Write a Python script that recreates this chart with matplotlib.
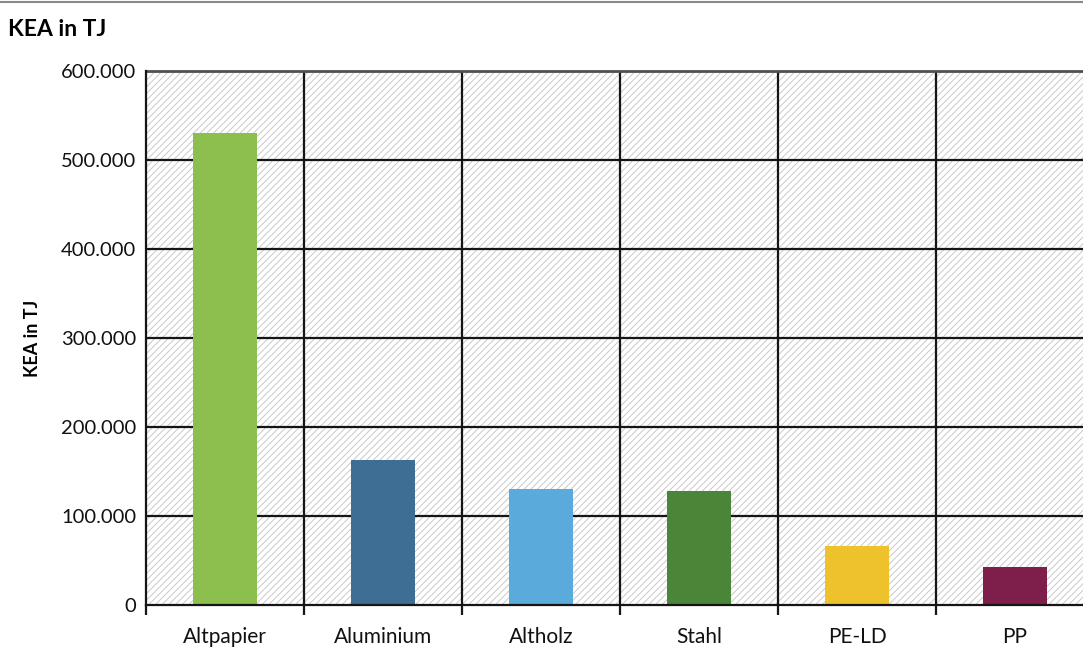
import matplotlib
matplotlib.use("Agg")
import matplotlib.pyplot as plt
from matplotlib.patches import Rectangle
from matplotlib.lines import Line2D
from matplotlib.ticker import FuncFormatter, FixedLocator

plt.rcParams['font.family'] = ['Lato', 'DejaVu Sans']
plt.rcParams['hatch.linewidth'] = 0.7

categories = ["Altpapier", "Aluminium", "Altholz", "Stahl", "PE-LD", "PP"]
values = [530000, 163000, 130000, 128000, 66000, 43000]
colors = ["#8dbf4e", "#3f6e94", "#5baadc", "#4a8538", "#eec22c", "#7e1f4b"]
yticks = [0, 100000, 200000, 300000, 400000, 500000, 600000]

W, H = 1083, 648
fig = plt.figure(figsize=(W / 100, H / 100), dpi=100)

# plot area runs past the right edge of the figure
left, right, top, bottom = 146, 1094, 71, 605
ax = fig.add_axes([left / W, 1 - bottom / H, (right - left) / W, (bottom - top) / H])
ax.set_xlim(-0.5, len(categories) - 0.5)
ax.set_ylim(0, 600000)

# hatched background
bg = Rectangle((0, 0), 1, 1, transform=ax.transAxes, facecolor="white",
               edgecolor="#c9c9c9", hatch="/////", linewidth=0, zorder=0)
ax.add_patch(bg)

x = list(range(len(categories)))
ax.bar(x, values, width=0.4, color=colors, zorder=3)

# grid
for y in yticks[1:]:
    ax.axhline(y, color="#151515", lw=1.6, zorder=2)
bounds = [i - 0.5 for i in range(len(categories) + 1)]
for b in bounds[1:]:
    ax.axvline(b, color="#151515", lw=1.6, zorder=2)

ax.set_yticks(yticks)
ax.yaxis.set_major_formatter(FuncFormatter(lambda v, p: f"{int(v):,}".replace(",", ".")))
ax.set_xticks(x)
ax.set_xticklabels(categories)
ax.tick_params(axis="x", which="major", length=0, pad=16, labelsize=15, labelcolor="#111111")
ax.xaxis.set_minor_locator(FixedLocator(bounds))
ax.tick_params(axis="x", which="minor", length=7, width=1.6, color="#151515", direction="out")
ax.tick_params(axis="y", length=0, pad=7, labelsize=14.5, labelcolor="#111111")

for s in ["left", "bottom"]:
    ax.spines[s].set_color("#151515")
    ax.spines[s].set_linewidth(1.6)
    ax.spines[s].set_zorder(4)
ax.spines["top"].set_color("#505050")
ax.spines["top"].set_linewidth(2)
ax.spines["right"].set_visible(False)

ax.set_ylabel("KEA in TJ", fontsize=13, fontweight="bold")
ax.yaxis.set_label_coords((41 - left) / (right - left), 0.5)

fig.text(8 / W, 1 - 30 / H, "KEA in TJ", fontsize=16.5, fontweight="bold", va="center", ha="left")
fig.add_artist(Line2D([0, 1], [1 - 2 / H, 1 - 2 / H], transform=fig.transFigure,
                      color="#8a8a8a", lw=1.5))

fig.savefig("out.png", dpi=100)
